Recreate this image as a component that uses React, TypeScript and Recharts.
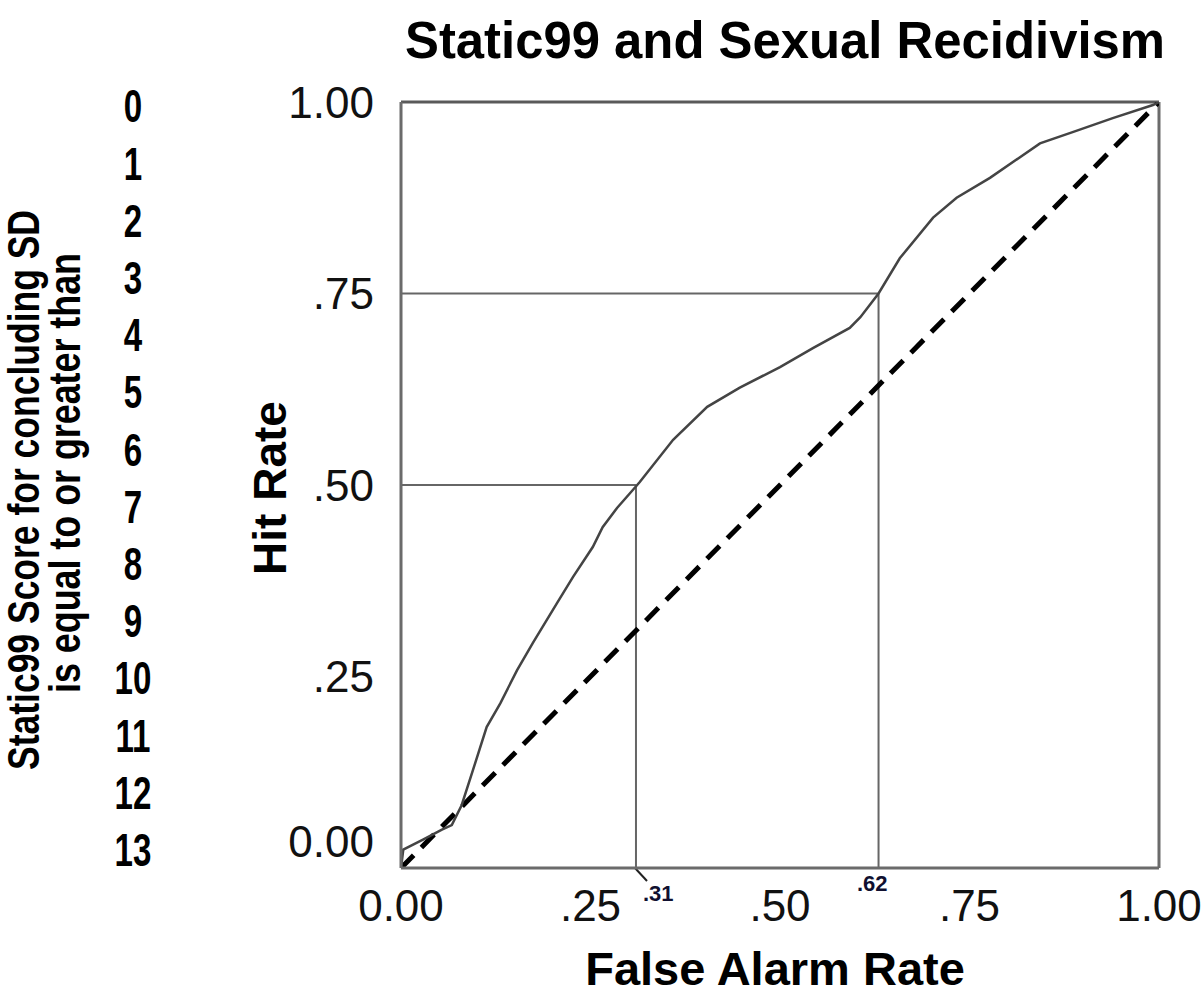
import { LineChart, Line, XAxis, YAxis, ReferenceLine } from 'recharts';

const falseAlarm = [0, 0.003, 0.029, 0.054, 0.067, 0.08, 0.095, 0.113, 0.131, 0.153, 0.174, 0.206, 0.227, 0.253, 0.266, 0.285, 0.309, 0.315, 0.359, 0.404, 0.447, 0.5, 0.544, 0.592, 0.606, 0.63, 0.658, 0.702, 0.733, 0.777, 0.843, 0.887, 0.939, 0.992, 1];
const hitRate = [0, 0.024, 0.037, 0.05, 0.056, 0.082, 0.128, 0.184, 0.215, 0.258, 0.294, 0.346, 0.38, 0.419, 0.445, 0.47, 0.497, 0.504, 0.559, 0.602, 0.627, 0.654, 0.679, 0.705, 0.719, 0.75, 0.796, 0.849, 0.875, 0.901, 0.946, 0.961, 0.979, 0.996, 1];
const chanceLine = [{ x: 0, y: 0 }, { x: 1, y: 1 }];

const axisTicks = [0, 0.25, 0.5, 0.75, 1];
const cutoffFalseAlarm = [0.31, 0.63];
const cutoffHitRate = [0.5, 0.75];
const cutoffLabels = ['.31', '.62'];
const scoreLabels = ['0', '1', '2', '3', '4', '5', '6', '7', '8', '9', '10', '11', '12', '13'];

const rocData = falseAlarm.map((x, i) => ({ x, y: hitRate[i] }));

const fmt = (v: number) => (v === 0 ? '0.00' : v === 1 ? '1.00' : v.toFixed(2).slice(1));
const tickFont = { fontFamily: 'Liberation Sans, Arial, sans-serif', fontSize: 44, fill: '#111' };

const YTick = (props: any) => {
  const { x, y, payload } = props;
  const shift = payload.value === 0 ? -27 : 0;
  return (
    <text x={x} y={y + shift} dy="0.355em" textAnchor="end" {...tickFont}>
      {fmt(payload.value)}
    </text>
  );
};

const XTick = (props: any) => {
  const { x, y, payload } = props;
  return (
    <text x={x} y={y} dy="0.71em" textAnchor="middle" {...tickFont}>
      {fmt(payload.value)}
    </text>
  );
};

const bold = { fontFamily: 'Liberation Sans, Arial, sans-serif', fontWeight: 700, fill: '#000' };

export default function App() {
  return (
    <div style={{ position: 'absolute', left: 0, top: 0, width: 1204, height: 1004, background: '#fff' }}>
      <LineChart width={1204} height={1004} margin={{ top: 102, right: 45, bottom: 0, left: 0 }}>
        <XAxis
          dataKey="x"
          type="number"
          domain={[0, 1]}
          ticks={axisTicks}
          height={136}
          tickSize={0}
          tickMargin={22}
          tick={<XTick />}
          axisLine={{ stroke: '#6b6b6b', strokeWidth: 3 }}
          allowDataOverflow
        />
        <YAxis
          dataKey="y"
          type="number"
          domain={[0, 1]}
          ticks={axisTicks}
          width={401}
          tickSize={0}
          tickMargin={27}
          tick={<YTick />}
          axisLine={{ stroke: '#6b6b6b', strokeWidth: 3 }}
          allowDataOverflow
        />
        <ReferenceLine y={1} stroke="#5a5a5a" strokeWidth={3} />
        <ReferenceLine x={1} stroke="#6b6b6b" strokeWidth={3} />
        {cutoffFalseAlarm.map((fa, i) => (
          <ReferenceLine key={'h' + i} segment={[{ x: 0, y: cutoffHitRate[i] }, { x: fa, y: cutoffHitRate[i] }]} stroke="#666" strokeWidth={2} />
        ))}
        {cutoffFalseAlarm.map((fa, i) => (
          <ReferenceLine key={'v' + i} segment={[{ x: fa, y: 0 }, { x: fa, y: cutoffHitRate[i] }]} stroke="#666" strokeWidth={2} />
        ))}
        <Line data={chanceLine} dataKey="y" type="linear" stroke="#000" strokeWidth={5} strokeDasharray="18 11" dot={false} isAnimationActive={false} />
        <Line data={rocData} dataKey="y" type="linear" stroke="#444" strokeWidth={2.5} dot={false} isAnimationActive={false} />

        <text x={785} y={58} textAnchor="middle" fontSize={52} textLength={760} lengthAdjust="spacingAndGlyphs" {...bold}>Static99 and Sexual Recidivism</text>
        <text x={775} y={985} textAnchor="middle" fontSize={47} {...bold}>False Alarm Rate</text>
        <text transform="translate(286,488) rotate(-90)" textAnchor="middle" fontSize={46} {...bold}>Hit Rate</text>

        <line x1={635} y1={868} x2={647} y2={881} stroke="#222" strokeWidth={2} />
        <text x={643} y={901} fontSize={22} {...bold} fill="#101030">{cutoffLabels[0]}</text>
        <text x={857} y={891} fontSize={22} {...bold} fill="#101030">{cutoffLabels[1]}</text>

        {scoreLabels.map((s, i) => (
          <text key={s} transform={`translate(133,${106 + i * 57.2}) scale(0.72,1)`} dy="0.355em" textAnchor="middle" fontSize={46} {...bold}>{s}</text>
        ))}
        <text transform="translate(39,490) rotate(-90)" textAnchor="middle" fontSize={44} textLength={560} lengthAdjust="spacingAndGlyphs" {...bold}>
          Static99 Score for concluding SD
        </text>
        <text transform="translate(80,473) rotate(-90)" textAnchor="middle" fontSize={44} textLength={440} lengthAdjust="spacingAndGlyphs" {...bold}>
          is equal to or greater than
        </text>
      </LineChart>
    </div>
  );
}
